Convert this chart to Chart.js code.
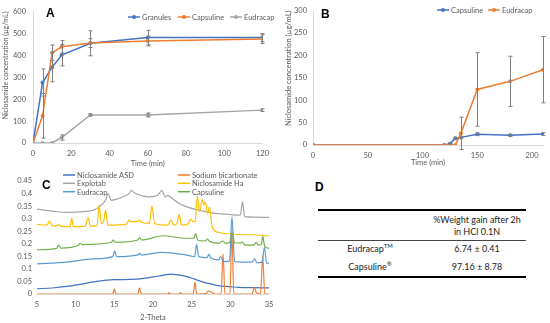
<!DOCTYPE html>
<html>
<head>
<meta charset="utf-8">
<script src="https://cdn.jsdelivr.net/npm/chart.js@4.4.1/dist/chart.umd.min.js"></script>
<style>
  body { margin: 0; background: #fff; }
  #wrap { position: relative; width: 550px; height: 323px; overflow: hidden; background: #fff; font-family: Lato, "Open Sans", sans-serif; }
  canvas { position: absolute; }
  .panel { position: absolute; font: bold 12px "Liberation Sans", Arial, sans-serif; color: #000; }
  .rule { position: absolute; background: #000; }
  .cell { position: absolute; width: 140px; text-align: center; font-size: 9px; color: #1a1a1a; line-height: 11px; white-space: nowrap; }
  sup { font-size: 6px; vertical-align: 4px; line-height: 0; }
</style>
</head>
<body>
<div id="wrap">
  <canvas id="chartA" width="275" height="170" style="left:0;top:0"></canvas>
  <canvas id="chartB" width="275" height="170" style="left:275px;top:0"></canvas>
  <canvas id="chartC" width="280" height="168" style="left:0;top:155px"></canvas>

  <div class="panel" style="left:46px;top:6px">A</div>
  <div class="panel" style="left:321px;top:7px">B</div>
  <div class="panel" style="left:42px;top:178px">C</div>
  <div class="panel" style="left:315px;top:180px">D</div>

  <div class="rule" style="left:318px;top:209px;width:208px;height:1.5px"></div>
  <div class="cell" style="left:407px;top:214px">%Weight gain after 2h</div>
  <div class="cell" style="left:407px;top:226px">in HCl 0.1N</div>
  <div class="rule" style="left:318px;top:240px;width:208px;height:1px;background:#444"></div>
  <div class="cell" style="left:300px;top:243px">Eudracap<sup>TM</sup></div>
  <div class="cell" style="left:407px;top:243px">6.74 ± 0.41</div>
  <div class="cell" style="left:300px;top:261px">Capsuline<sup>®</sup></div>
  <div class="cell" style="left:407px;top:261px">97.16 ± 8.78</div>
  <div class="rule" style="left:318px;top:276px;width:208px;height:1.5px"></div>
</div>

<script>
// ---- Panel A: dissolution (µg/mL) ----
const timeA = [0, 5, 10, 15, 30, 60, 120];
const granulesA = [0, 276, 346, 401, 455, 481, 481];
const granulesAErr = [0, 62, 67, 49, 57, 33, 18];
const capsulineA = [0, 124, 412, 439, 456, 465, 474];
const capsulineAErr = [0, 102, 35, 28, 20, 22, 20];
const eudracapA = [0, 0, 0, 25, 128, 128, 150];
const eudracapAErr = [0, 0, 0, 12, 5, 9, 6];

// ---- Panel B: pH shift release ----
const timeB = [0, 120, 125, 130, 135, 150, 180, 210];
const timeTicksB = [0, 50, 100, 150, 200];
const capsulineB = [0, 0, 3, 15, 17, 24, 21.5, 24.5];
const capsulineBErr = [0, 0, 1, 2, 2, 3, 2, 3];
const eudracapB = [0, 0, 0, 0, 26, 124, 142, 168];
const eudracapBErr = [0, 0, 0, 0, 36, 82, 56, 74];

// ---- Panel C: XRD patterns, [2-theta, intensity] ----
const niclosamideASD = [[5,0.021],[7,0.024],[8.85,0.030],[10.5,0.038],[12.3,0.048],[14,0.055],[15,0.057],[17,0.058],[18.3,0.060],[20,0.068],[21.2,0.074],[22.3,0.079],[23.3,0.076],[24.3,0.070],[25.3,0.060],[26.4,0.048],[27.5,0.040],[28.5,0.033],[30,0.029],[31.1,0.026],[33,0.025],[35,0.024]];
const sodiumBicarbonate = [[5,0],[14.8,0],[15.0,0.02],[15.2,0],[18.05,0],[18.25,0.024],[18.45,0.004],[18.7,0],[21.9,0],[22.05,0.006],[22.2,0],[23.4,0],[23.55,0.006],[23.7,0],[25.2,0],[25.43,0.046],[25.65,0],[26.9,0.002],[27.2,0.013],[27.6,0.006],[28.0,0],[28.8,0],[29.06,0.16],[29.3,0],[29.95,0],[30.2,0.245],[30.45,0],[32.8,0],[33.1,0.026],[33.4,0.004],[33.9,0],[34.19,0.152],[34.45,0],[35,0]];
const explotab = [[5,0.338],[7,0.330],[8.85,0.325],[11,0.328],[12.3,0.334],[13.33,0.354],[13.9,0.375],[14.19,0.400],[14.62,0.373],[15.3,0.378],[16.11,0.387],[16.9,0.400],[17.18,0.413],[17.6,0.403],[18.5,0.392],[19.53,0.387],[20.6,0.393],[21.15,0.413],[21.54,0.387],[21.88,0.393],[22.5,0.380],[23.38,0.360],[24.3,0.348],[25.09,0.340],[26.5,0.330],[28.08,0.321],[29.5,0.318],[31.07,0.314],[31.3,0.316],[31.58,0.367],[31.85,0.308],[33,0.306],[35,0.305]];
const niclosamideHa = [[5,0.277],[6.28,0.274],[6.62,0.290],[7.0,0.272],[7.56,0.271],[7.78,0.276],[8.1,0.270],[8.85,0.268],[9.3,0.270],[9.49,0.302],[9.7,0.268],[11.2,0.270],[11.62,0.303],[11.9,0.270],[12.78,0.272],[13.03,0.356],[13.3,0.281],[13.6,0.285],[13.85,0.334],[14.15,0.274],[16.54,0.277],[16.88,0.294],[17.2,0.288],[18.0,0.288],[18.25,0.295],[18.5,0.286],[19.53,0.281],[19.87,0.350],[20.2,0.281],[21.9,0.274],[22.31,0.294],[22.7,0.274],[23.08,0.280],[23.38,0.317],[23.68,0.274],[24.57,0.280],[24.87,0.298],[25.2,0.288],[25.45,0.290],[25.73,0.389],[26.03,0.327],[26.37,0.376],[26.58,0.354],[26.79,0.367],[27.05,0.320],[27.31,0.347],[27.65,0.268],[28.5,0.245],[30.0,0.240],[30.21,0.250],[30.5,0.238],[33,0.236],[35,0.231]];
const eudracapXRD = [[5,0.120],[8.85,0.127],[12.3,0.140],[14.8,0.149],[15.04,0.172],[15.3,0.149],[18.05,0.156],[18.25,0.162],[18.5,0.156],[21.2,0.166],[24.2,0.156],[25.4,0.149],[25.64,0.199],[25.9,0.149],[27.0,0.145],[27.22,0.158],[27.5,0.143],[28.5,0.136],[28.72,0.149],[29.1,0.129],[29.9,0.131],[30.21,0.307],[30.55,0.129],[32.8,0.127],[33.12,0.140],[33.45,0.124],[34.1,0.127],[34.4,0.185],[34.7,0.123],[35,0.123]];
const capsulineXRD = [[5,0.176],[7.56,0.182],[7.78,0.195],[8.08,0.183],[10.34,0.193],[10.56,0.202],[10.81,0.197],[14.62,0.206],[14.83,0.215],[15.1,0.206],[18.03,0.215],[18.25,0.224],[18.55,0.215],[21.24,0.232],[24.23,0.222],[25.3,0.222],[25.51,0.241],[25.8,0.214],[26.8,0.211],[27.01,0.219],[27.3,0.210],[28.5,0.202],[29.02,0.211],[29.36,0.202],[29.9,0.204],[30.21,0.241],[30.6,0.203],[31.3,0.203],[31.5,0.208],[31.9,0.195],[33.1,0.196],[33.33,0.206],[33.6,0.195],[34.0,0.196],[34.19,0.231],[34.45,0.189],[35,0.182]];

const BLUE = '#4472C4', ORANGE = '#ED7D31', GRAY = '#A5A5A5', YELLOW = '#FFC000', LIGHTBLUE = '#5B9BD5', GREEN = '#70AD47';
const TEXT = '#595959', AXIS = '#d9d9d9';

Chart.defaults.font.family = 'Lato, "Open Sans", sans-serif';
Chart.defaults.color = TEXT;
Chart.defaults.animation = false;

// pair x values with y values for the linear x scales
function pts(xs, ys) {
    return xs.map((x, i) => ({ x: x, y: ys[i] }));
}

// vertical error bars drawn through the chart scales
const errorBars = {
    id: 'errorBars',
    afterDatasetsDraw(chart) {
        const { ctx, scales } = chart;
        ctx.save();
        ctx.strokeStyle = '#7f7f7f';
        ctx.lineWidth = 1;
        chart.data.datasets.forEach((ds) => {
            if (!ds.errors) return;
            ds.data.forEach((p, j) => {
                const e = ds.errors[j];
                if (!e) return;
                const px = Math.round(scales.x.getPixelForValue(p.x)) + 0.5;
                const top = scales.y.getPixelForValue(p.y + e);
                const bot = scales.y.getPixelForValue(p.y - e);
                ctx.beginPath();
                ctx.moveTo(px, top); ctx.lineTo(px, bot);
                ctx.moveTo(px - 2, top); ctx.lineTo(px + 2, top);
                ctx.moveTo(px - 2, bot); ctx.lineTo(px + 2, bot);
                ctx.stroke();
            });
        });
        ctx.restore();
    }
};

// legend placed freely inside the chart (line + optional marker + label)
const freeLegend = {
    id: 'freeLegend',
    afterDraw(chart, args, opts) {
        if (!opts.items) return;
        const ctx = chart.ctx;
        ctx.save();
        ctx.font = opts.font;
        ctx.textBaseline = 'middle';
        opts.items.forEach((it) => {
            const ds = chart.data.datasets[it.ds];
            ctx.strokeStyle = ds.borderColor;
            ctx.lineWidth = opts.lineWidth;
            ctx.beginPath();
            ctx.moveTo(it.x, it.y); ctx.lineTo(it.x + opts.len, it.y);
            ctx.stroke();
            if (opts.marker) {
                ctx.fillStyle = ds.borderColor;
                ctx.beginPath();
                ctx.arc(it.x + opts.len / 2, it.y, 2, 0, Math.PI * 2);
                ctx.fill();
            }
            ctx.fillStyle = TEXT;
            ctx.fillText(ds.label, it.x + opts.len + 2, it.y + 0.5);
        });
        ctx.restore();
    }
};

function lineSet(label, data, color, errors, order) {
    return {
        label: label, data: data, errors: errors, order: order,
        borderColor: color, backgroundColor: color,
        borderWidth: 1.5, pointRadius: 2, pointBorderWidth: 0,
        pointBackgroundColor: color, tension: 0
    };
}

function axis(min, max, step, opts) {
    return Object.assign({
        type: 'linear', min: min, max: max,
        grid: { display: false, drawTicks: false },
        border: { display: true, color: AXIS, width: 1 },
        ticks: { stepSize: step, font: { size: 7.5 }, color: TEXT, padding: 6 }
    }, opts);
}

// Panel A
new Chart(document.getElementById('chartA'), {
    type: 'line',
    data: {
        datasets: [
            lineSet('Granules', pts(timeA, granulesA), BLUE, granulesAErr, 3),
            lineSet('Capsuline', pts(timeA, capsulineA), ORANGE, capsulineAErr, 2),
            lineSet('Eudracap', pts(timeA, eudracapA), GRAY, eudracapAErr, 1)
        ]
    },
    options: {
        responsive: false,
        layout: { padding: { left: 0, top: 8, right: 9, bottom: 0 } },
        plugins: {
            legend: { display: false }, tooltip: { enabled: false },
            freeLegend: { font: '7.5px Lato', len: 12, lineWidth: 1.5, marker: true,
                items: [{ ds: 0, x: 128, y: 17 }, { ds: 1, x: 178, y: 17 }, { ds: 2, x: 230, y: 17 }] }
        },
        scales: {
            x: axis(0, 120, 20, {
                title: { display: true, text: 'Time (min)', font: { size: 7.5 }, color: TEXT, padding: { top: 0, bottom: 2 } },
                afterFit: (s) => { s.height = 27; }
            }),
            y: axis(0, 600, 100, {
                ticks: { stepSize: 100, font: { size: 7.5 }, color: TEXT, padding: 7 },
                title: { display: true, text: 'Niclosamide concentration (µg/mL)', align: 'end', font: { size: 7 }, color: TEXT, padding: { top: 2, bottom: 0 } },
                afterFit: (s) => { s.width = 33; }
            })
        }
    },
    plugins: [errorBars, freeLegend]
});

// Panel B
new Chart(document.getElementById('chartB'), {
    type: 'line',
    data: {
        datasets: [
            lineSet('Capsuline', pts(timeB, capsulineB), BLUE, capsulineBErr, 2),
            lineSet('Eudracap', pts(timeB, eudracapB), ORANGE, eudracapBErr, 1)
        ]
    },
    options: {
        responsive: false,
        layout: { padding: { left: 0, top: 10, right: 7, bottom: 0 } },
        plugins: {
            legend: { display: false }, tooltip: { enabled: false },
            freeLegend: { font: '7.5px Lato', len: 12, lineWidth: 1.5, marker: true,
                items: [{ ds: 0, x: 162, y: 10 }, { ds: 1, x: 213, y: 10 }] }
        },
        scales: {
            x: axis(0, 210, 50, {
                ticks: { autoSkip: false, font: { size: 7.5 }, color: TEXT, padding: 6 },
                // axis runs to 210 but the labels stop at 200
                afterBuildTicks: (s) => { s.ticks = timeTicksB.map((v) => ({ value: v })); },
                title: { display: true, text: 'Time (min)', font: { size: 7.5 }, color: TEXT, padding: { top: 0, bottom: 3 } },
                afterFit: (s) => { s.height = 25; }
            }),
            y: axis(0, 300, 50, {
                ticks: { stepSize: 50, font: { size: 7.5 }, color: TEXT, padding: 6 },
                title: { display: true, text: 'Niclosamide concentration (µg/mL)', align: 'end', font: { size: 7.5 }, color: TEXT, padding: { top: 9, bottom: 0 } },
                afterFit: (s) => { s.width = 38; }
            })
        }
    },
    plugins: [errorBars, freeLegend]
});

// Panel C
function xrdSet(label, data, color, order) {
    return {
        label: label, data: data.map(([x, y]) => ({ x: x, y: y })), order: order,
        borderColor: color, borderWidth: 1.2, pointRadius: 0,
        cubicInterpolationMode: 'monotone'
    };
}

new Chart(document.getElementById('chartC'), {
    type: 'line',
    data: {
        datasets: [
            xrdSet('Niclosamide ASD', niclosamideASD, BLUE, 6),
            xrdSet('Sodium bicarbonate', sodiumBicarbonate, ORANGE, 5),
            xrdSet('Explotab', explotab, GRAY, 4),
            xrdSet('Niclosamide Ha', niclosamideHa, YELLOW, 3),
            xrdSet('Eudracap', eudracapXRD, LIGHTBLUE, 2),
            xrdSet('Capsuline', capsulineXRD, GREEN, 1)
        ]
    },
    options: {
        responsive: false,
        layout: { padding: { left: 0, top: 26, right: 11, bottom: 0 } },
        plugins: {
            legend: { display: false }, tooltip: { enabled: false },
            freeLegend: { font: '7.5px Lato', len: 12, lineWidth: 1.5, marker: false,
                items: [
                    { ds: 0, x: 63, y: 20 }, { ds: 1, x: 178, y: 20 },
                    { ds: 2, x: 63, y: 28.3 }, { ds: 3, x: 178, y: 28.3 },
                    { ds: 4, x: 63, y: 36.7 }, { ds: 5, x: 178, y: 36.7 }
                ] }
        },
        scales: {
            x: axis(5, 35, 5, {
                title: { display: true, text: '2-Theta', font: { size: 7.5 }, color: TEXT, padding: { top: 0, bottom: 1 } },
                afterFit: (s) => { s.height = 29; }
            }),
            y: axis(0, 0.45, 0.05, {
                border: { display: false },
                ticks: { stepSize: 0.05, font: { size: 7.5 }, color: TEXT, padding: 5,
                    callback: (v) => String(parseFloat(v.toFixed(2))) },
                afterFit: (s) => { s.width = 37; }
            })
        }
    },
    plugins: [freeLegend]
});
</script>
</body>
</html>
